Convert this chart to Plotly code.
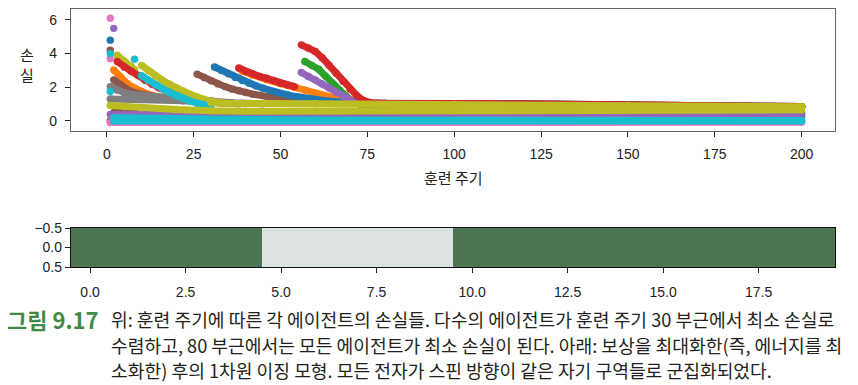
import plotly.graph_objects as go

# ---------------- data ----------------
# Each series: epochs / loss, None marks a break between segments.
EP_BROWN_A = [1, None, 1, None, 2, 100, 200]
LS_BROWN_A = [4.2, None, 0.0, None, 0.5, 0.5, 0.48]

EP_BLUE_A = [1, None, 2, 200]
LS_BLUE_A = [4.8, None, 0.27, 0.25]

EP_PURPLE_A = [2, None, 1, 100, 200]
LS_PURPLE_A = [5.5, None, 0.38, 0.36, 0.36]

EP_PINK_A = [1, None, 1, 200]
LS_PINK_A = [6.1, None, -0.1, -0.08]

EP_PINK_B = [1]
LS_PINK_B = [3.7]

EP_OLIVE_A = [3, 5, 7, 8]
LS_OLIVE_A = [3.9, 3.57, 3.25, 3.05]

EP_RED_A = [3, 5, 7, 9, 11, 13, 15, 18, 21, 24, 27, 30, 34]
LS_RED_A = [3.53, 3.2, 2.95, 2.7, 2.42, 2.18, 1.97, 1.72, 1.52, 1.36, 1.22, 1.12, 1.05]

EP_ORANGE_A = [2, 4, 6, 8, 10, 12, 15, 19, 24, 30]
LS_ORANGE_A = [3.03, 2.6, 2.2, 1.95, 1.75, 1.58, 1.42, 1.3, 1.2, 1.12]

EP_BROWN_B = [2, 4, 6, 8, 11, 15, 20, 25]
LS_BROWN_B = [2.44, 2.12, 1.86, 1.68, 1.52, 1.4, 1.3, 1.22]

EP_GRAY_A = [1, 3, 5, 8, 12, 18, 24, 30, 36, 45]
LS_GRAY_A = [2.04, 1.82, 1.68, 1.56, 1.48, 1.42, 1.33, 1.2, 1.08, 1.02]

EP_GRAY_B = [1, 8, 15, 22, 30, 38]
LS_GRAY_B = [1.3, 1.3, 1.27, 1.2, 1.1, 1.02]

EP_OLIVE_B = [10, 12, 14, 16, 18, 20, 22, 24, 26, 28, 30, 33]
LS_OLIVE_B = [3.3, 2.98, 2.68, 2.42, 2.18, 1.96, 1.76, 1.58, 1.42, 1.28, 1.16, 1.08]

EP_CYAN_A = [1, None, 8, None, 1, None, 10, 12, 14, 16, 18, 20, 22, 24, 26, 28, 30]
LS_CYAN_A = [4.0, None, 3.67, None, 1.75, None, 2.68, 2.4, 2.15, 1.92, 1.7, 1.5, 1.33, 1.18, 1.05, 0.95, 0.88]

EP_ORANGE_B = [39, 42, 46, 50, 54, 57, 60, 64, 68, 72, 78, 120, 200]
LS_ORANGE_B = [2.95, 2.72, 2.45, 2.22, 2.0, 1.83, 1.65, 1.43, 1.24, 1.1, 1.02, 1.0, 0.85]

EP_BROWN_C = [26, 28, 30, 32, 34, 36, 38, 40, 42, 46, 50, 55, 60, 66, 75, 120, 200]
LS_BROWN_C = [2.78, 2.58, 2.38, 2.2, 2.04, 1.9, 1.79, 1.69, 1.59, 1.46, 1.36, 1.24, 1.14, 1.07, 1.03, 1.0, 0.85]

EP_BLUE_B = [31, 33, 35, 37, 39, 41, 43, 45, 47, 49, 52, 55, 59, 64, 70, 78, 120, 200]
LS_BLUE_B = [3.2, 3.0, 2.8, 2.58, 2.4, 2.24, 2.08, 1.94, 1.8, 1.68, 1.55, 1.43, 1.29, 1.17, 1.09, 1.05, 1.02, 0.85]

EP_RED_B = [38, 40, 42, 44, 46, 48, 50, 52, 54]
LS_RED_B = [3.14, 2.93, 2.8, 2.64, 2.54, 2.4, 2.24, 2.14, 2.04]

EP_GREEN_A = [57, 59, 61, 63, 65, 67, 69, 71, 73, 76, 200]
LS_GREEN_A = [3.53, 3.3, 3.07, 2.65, 2.22, 1.82, 1.45, 1.15, 0.98, 0.92, 0.85]

EP_PURPLE_B = [56, 58, 60, 62, 64, 66, 68, 70, 72, 75, 200]
LS_PURPLE_B = [2.88, 2.64, 2.44, 2.2, 1.95, 1.7, 1.47, 1.27, 1.1, 1.0, 0.85]

EP_RED_C = [56, 58, 60, 62, 64, 66, 68, 70, 72, 74, 76, 80, 120, 200]
LS_RED_C = [4.52, 4.33, 4.13, 3.75, 3.3, 2.83, 2.35, 1.9, 1.5, 1.2, 1.08, 1.05, 1.02, 0.85]

EP_OLIVE_C = [30, 34, 60, 100, 150, 200]
LS_OLIVE_C = [1.1, 1.05, 1.02, 0.98, 0.9, 0.84]

EP_OLIVE_D = [1, 5, 10, 20, 30, 40, 100, 200]
LS_OLIVE_D = [0.92, 0.85, 0.78, 0.68, 0.6, 0.57, 0.6, 0.66]

EP_CYAN_B = [2, 20, 60, 200]
LS_CYAN_B = [0.18, 0.12, 0.05, 0.02]

EP_CYAN_C = [2, 200]
LS_CYAN_C = [0.0, -0.01]

X_TICKS_TOP = [0, 25, 50, 75, 100, 125, 150, 175, 200]
Y_TICKS_TOP = [0, 2, 4, 6]

SPINS = [1, 1, 1, 1, 1, -1, -1, -1, -1, -1, 1, 1, 1, 1, 1, 1, 1, 1, 1, 1]
SITES = list(range(20))
X_TICKS_BOT = [0, 2.5, 5, 7.5, 10, 12.5, 15, 17.5]
X_TICKTEXT_BOT = ["0.0", "2.5", "5.0", "7.5", "10.0", "12.5", "15.0", "17.5"]
Y_TICKS_BOT = [-0.5, 0.0, 0.5]
Y_TICKTEXT_BOT = ["\u22120.5", "0.0", "0.5"]

X_TITLE = "훈련 주기"
Y_TITLE = "손<br>실"
FIG_LABEL = "그림 9.17"
CAPTION = [
    "위: 훈련 주기에 따른 각 에이전트의 손실들. 다수의 에이전트가 훈련 주기 30 부근에서 최소 손실로",
    "수렴하고, 80 부근에서는 모든 에이전트가 최소 손실이 된다. 아래: 보상을 최대화한(즉, 에너지를 최",
    "소화한) 후의 1차원 이징 모형. 모든 전자가 스핀 방향이 같은 자기 구역들로 군집화되었다.",
]

# ---------------- styles ----------------
BLUE, ORANGE, GREEN, RED, PURPLE = "#1f77b4", "#ff7f0e", "#2ca02c", "#d62728", "#9467bd"
BROWN, PINK, GRAY, OLIVE, CYAN = "#8c564b", "#e377c2", "#7f7f7f", "#bcbd22", "#17becf"

SERIES = [
    (EP_BROWN_A, LS_BROWN_A, BROWN),
    (EP_BLUE_A, LS_BLUE_A, BLUE),
    (EP_PURPLE_A, LS_PURPLE_A, PURPLE),
    (EP_PINK_A, LS_PINK_A, PINK),
    (EP_PINK_B, LS_PINK_B, PINK),
    (EP_OLIVE_A, LS_OLIVE_A, OLIVE),
    (EP_RED_A, LS_RED_A, RED),
    (EP_ORANGE_A, LS_ORANGE_A, ORANGE),
    (EP_BROWN_B, LS_BROWN_B, BROWN),
    (EP_GRAY_A, LS_GRAY_A, GRAY),
    (EP_GRAY_B, LS_GRAY_B, GRAY),
    (EP_OLIVE_B, LS_OLIVE_B, OLIVE),
    (EP_CYAN_A, LS_CYAN_A, CYAN),
    (EP_ORANGE_B, LS_ORANGE_B, ORANGE),
    (EP_BROWN_C, LS_BROWN_C, BROWN),
    (EP_BLUE_B, LS_BLUE_B, BLUE),
    (EP_RED_B, LS_RED_B, RED),
    (EP_GREEN_A, LS_GREEN_A, GREEN),
    (EP_PURPLE_B, LS_PURPLE_B, PURPLE),
    (EP_RED_C, LS_RED_C, RED),
    (EP_OLIVE_C, LS_OLIVE_C, OLIVE),
    (EP_OLIVE_D, LS_OLIVE_D, OLIVE),
    (EP_CYAN_B, LS_CYAN_B, CYAN),
    (EP_CYAN_C, LS_CYAN_C, CYAN),
]

# The page puts the figure 8 px in from the top-left corner of the window,
# so window pixel positions are converted with that offset.
W, H = 858, 385
OFF = 8
def fx(p):
    return (p - OFF) / W
def fy(p):
    return 1 - (p - OFF) / H

fig = go.Figure()
for ep, ls, col in SERIES:
    fig.add_trace(go.Scatter(
        x=ep, y=ls, mode="lines+markers", connectgaps=False,
        line=dict(color=col, width=7),
        marker=dict(color=col, size=7.4, line=dict(width=0)),
        xaxis="x", yaxis="y", hoverinfo="skip", showlegend=False,
    ))

fig.add_trace(go.Heatmap(
    z=[SPINS], x=SITES, y=[0], zmin=-1, zmax=1,
    colorscale=[[0, "#dde3de"], [1, "#4b7553"]],
    showscale=False, xaxis="x2", yaxis="y2", hoverinfo="skip",
))

TICKFONT = dict(family="Liberation Sans, Arial, sans-serif", size=14, color="#222222")
common = dict(showgrid=False, zeroline=False, ticks="outside", ticklen=5, tickwidth=1.3,
              tickcolor="#222222", tickfont=TICKFONT, showline=True, mirror=True,
              automargin=False)

fig.update_layout(
    width=W, height=H,
    margin=dict(l=0, r=0, t=0, b=0),
    paper_bgcolor="white", plot_bgcolor="white",
    xaxis=dict(domain=[fx(71), fx(835)], range=[-10.3, 209.6], tickvals=X_TICKS_TOP,
               anchor="y", linecolor="#666666", linewidth=1.3, ticklabelstandoff=5, **common),
    yaxis=dict(domain=[fy(131), fy(9)], range=[-0.6, 6.65], tickvals=Y_TICKS_TOP,
               anchor="x", linecolor="#666666", linewidth=1.3, ticklabelstandoff=5, **common),
    xaxis2=dict(domain=[fx(71), fx(835)], range=[-0.5, 19.5], tickvals=X_TICKS_BOT,
                ticktext=X_TICKTEXT_BOT, anchor="y2", linecolor="#111111", linewidth=1.3,
                ticklabelstandoff=7, **common),
    yaxis2=dict(domain=[fy(267), fy(228)], range=[0.5, -0.5], tickvals=Y_TICKS_BOT,
                ticktext=Y_TICKTEXT_BOT, anchor="x2", linecolor="#111111", linewidth=1.3,
                ticklabelstandoff=0, **common),
)

KFONT = "Noto Sans CJK KR"
ann = [
    dict(text=X_TITLE, x=fx(453), y=fy(177), xanchor="center", yanchor="middle",
         font=dict(family=KFONT, size=15, color="#222222")),
    dict(text=Y_TITLE, x=fx(27), y=fy(64), xanchor="center", yanchor="middle",
         font=dict(family=KFONT, size=15, color="#222222")),
    dict(text="<b>" + FIG_LABEL + "</b>", x=fx(5), y=fy(319), xanchor="left", yanchor="middle",
         font=dict(family=KFONT, size=22, color="#3f8a45")),
]
for i, line in enumerate(CAPTION):
    ann.append(dict(text=line, x=fx(109), y=fy(319 + 25.5 * i), xanchor="left", yanchor="middle",
                    font=dict(family=KFONT, size=18.2, color="#231f20")))
for a in ann:
    a.update(xref="paper", yref="paper", showarrow=False)
fig.update_layout(annotations=ann)

fig.write_html("out.html")
